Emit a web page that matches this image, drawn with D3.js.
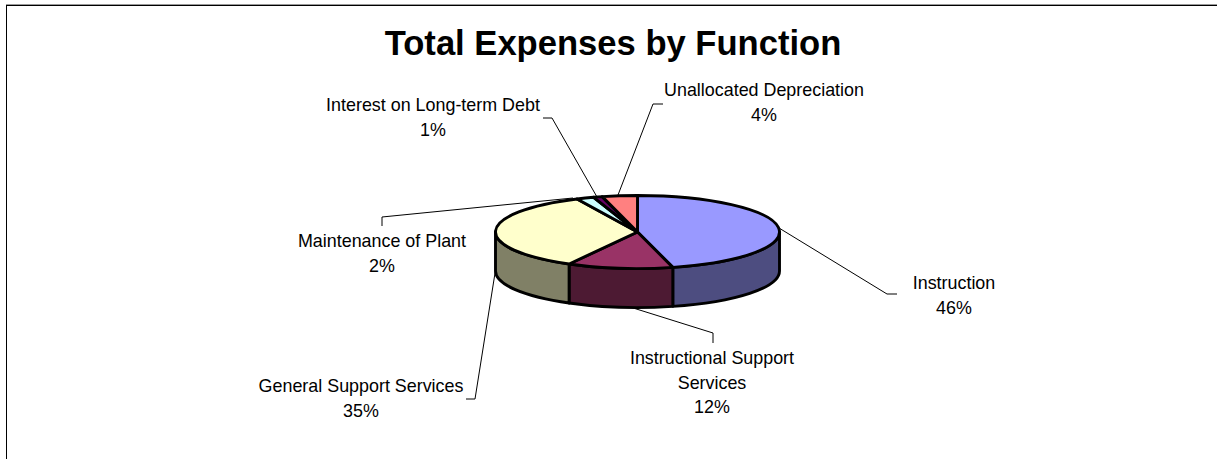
<!DOCTYPE html>
<html>
<head>
<meta charset="utf-8">
<script src="https://cdn.jsdelivr.net/npm/d3@7/dist/d3.min.js"></script>
<style>
  html, body { margin: 0; padding: 0; background: #fff; overflow: hidden; }
  text { font-family: "Liberation Sans", Arial, sans-serif; fill: #000; }
</style>
</head>
<body>
<svg id="chart" width="1217" height="459" style="display:block"></svg>
<script>
const shares = [46, 12, 35, 2, 1, 4];
const topColors = ["#9999ff", "#993366", "#ffffcc", "#ccffff", "#660066", "#ff8080"];
const sideColors = ["#4d4d80", "#4d1a33", "#808066", "#668080", "#330033", "#804040"];
const labelLines = [["Instruction"], ["Instructional Support", "Services"], ["General Support Services"],
                    ["Maintenance of Plant"], ["Interest on Long-term Debt"], ["Unallocated Depreciation"]];

// Label centres and the elbowed leader line belonging to each slice
const labelAnchors = [[954, 289], [712, 364], [361, 392], [382, 247], [433, 111], [764, 96]];
const leaderRoutes = [
  [[779, 228], [887, 294], [897, 294]],
  [[630, 307], [713, 333], [713, 343]],
  [[495.5, 270], [475, 399], [466, 399]],
  [[573, 198], [382, 217], [382, 226]],
  [[597, 197], [552, 118], [543, 118]],
  [[618, 195], [653, 104], [663, 104]]
];

const svg = d3.select("#chart");
const cx = 637.5, cy = 232, rx = 142, ry = 36.5, depth = 39, rimWidth = 2.9;

// Frame: open towards the right and the bottom, with a grey hairline above it
svg.append("line").attr("x1", 6).attr("x2", 1217).attr("y1", 4.5).attr("y2", 4.5)
  .attr("stroke", "#999").attr("stroke-width", 1);
svg.append("rect").attr("x", 6.5).attr("y", 5.5).attr("width", 1300).attr("height", 500)
  .attr("fill", "#fff").attr("stroke", "#000").attr("stroke-width", 1);

svg.append("text").attr("x", 613).attr("y", 55).attr("text-anchor", "middle")
  .attr("font-size", 34.6).attr("font-weight", "bold").text("Total Expenses by Function");

const arcs = d3.pie().sort(null)(shares);
const point = (a, dy = 0) => [cx + rx * Math.sin(a), cy - ry * Math.cos(a) + dy];

const leader = d3.line();
svg.append("g").selectAll("path").data(leaderRoutes).join("path")
  .attr("d", leader)
  .attr("fill", "none").attr("stroke", "#000").attr("stroke-width", 1);

// Outer wall of the disc: only the front half of the rim is visible
const frontFrom = Math.PI / 2, frontTo = 3 * Math.PI / 2;
const walls = arcs.filter(d => d.endAngle > frontFrom && d.startAngle < frontTo);
svg.append("g").selectAll("path").data(walls).join("path")
  .attr("d", d => {
    const a0 = Math.max(d.startAngle, frontFrom), a1 = Math.min(d.endAngle, frontTo);
    const [x0, y0] = point(a0), [x1, y1] = point(a1);
    const [x2, y2] = point(a1, depth), [x3, y3] = point(a0, depth);
    return `M${x0},${y0}A${rx},${ry} 0 0 1 ${x1},${y1}L${x2},${y2}A${rx},${ry} 0 0 0 ${x3},${y3}Z`;
  })
  .attr("fill", d => sideColors[d.index]).attr("stroke", "#000").attr("stroke-width", rimWidth)
  .attr("stroke-linejoin", "round");

// Top face: a flat pie squashed vertically into an ellipse
const arc = d3.arc().innerRadius(0).outerRadius(rx);
svg.append("g").attr("transform", `translate(${cx},${cy}) scale(1,${ry / rx})`)
  .selectAll("path").data(arcs).join("path")
  .attr("d", arc).attr("fill", d => topColors[d.index])
  .attr("stroke", "#000").attr("stroke-width", rimWidth).attr("stroke-linejoin", "round")
  .attr("vector-effect", "non-scaling-stroke");

// Category and percentage labels
const labels = svg.append("g").attr("font-size", 17.9).attr("text-anchor", "middle");
labelLines.forEach((lines, i) => {
  const [x, y] = labelAnchors[i];
  const t = labels.append("text").attr("transform", `translate(${x},${y})`);
  [...lines, shares[i] + "%"].forEach((s, k) => {
    t.append("tspan").attr("x", 0).attr("dy", k ? 24.5 : 0).text(s);
  });
});
</script>
</body>
</html>
